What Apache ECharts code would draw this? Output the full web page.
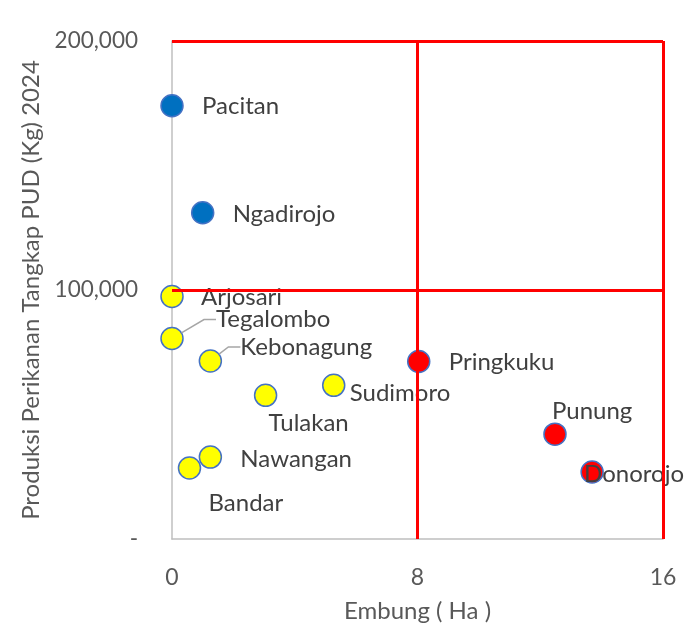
<!DOCTYPE html>
<html>
<head>
<meta charset="utf-8">
<script src="https://cdn.jsdelivr.net/npm/echarts@6/dist/echarts.min.js"></script>
<style>
  html, body { margin: 0; padding: 0; background: #ffffff; }
  #chart { width: 684px; height: 633px; }
</style>
</head>
<body>
<div id="chart"></div>
<script>
// Kecamatan di Kabupaten Pacitan
const kecamatan = ['Pacitan', 'Ngadirojo', 'Arjosari', 'Tegalombo', 'Kebonagung', 'Tulakan',
  'Sudimoro', 'Nawangan', 'Bandar', 'Pringkuku', 'Punung', 'Donorojo'];
// Luas embung (Ha)
const embung = [0, 1.0, 0, 0, 1.25, 3.05, 5.27, 1.25, 0.57, 8.04, 12.48, 13.69];
// Produksi perikanan tangkap PUD 2024 (Kg)
const produksi = [174000, 131000, 97400, 80500, 71500, 57700, 61700, 32900, 28500, 71300, 42100, 26900];
// Kelompok kuadran tiap kecamatan
const kelompok = ['tinggi', 'tinggi', 'rendah', 'rendah', 'rendah', 'rendah',
  'rendah', 'rendah', 'rendah', 'embung', 'embung', 'embung'];
// Garis batas kuadran
const batasEmbung = [8, 16];
const batasProduksi = [100000, 200000];
const xTicks = [0, 8, 16];

const FONT = 'Lato';
const warna = { tinggi: '#0070C0', rendah: '#FFFF00', embung: '#FF0000' };

// label placement: [dx, dy] from the marker centre to the text's left/middle
const labelOffset = {
  Pacitan: [30, 1], Ngadirojo: [30, 1], Arjosari: [29, 1], Tegalombo: [44, -19],
  Kebonagung: [30, -14], Tulakan: [3, 28], Sudimoro: [16, 8], Nawangan: [30, 2],
  Bandar: [19, 35], Pringkuku: [30, 1], Punung: [-3, -23], Donorojo: [-8, 2]
};
const withLeader = { Tegalombo: true, Kebonagung: true };

const points = kecamatan.map((nama, i) => ({
  name: nama,
  value: [embung[i], produksi[i]],
  itemStyle: { color: warna[kelompok[i]] },
  label: { offset: labelOffset[nama] },
  labelLine: { show: !!withLeader[nama] }
}));

const chart = echarts.init(document.getElementById('chart'), null, { renderer: 'canvas' });
chart.setOption({
  animation: false,
  backgroundColor: '#ffffff',
  grid: { left: 172, right: 21, top: 41, bottom: 94, containLabel: false },
  xAxis: {
    type: 'value', min: 0, max: 16, interval: 8,
    name: 'Embung ( Ha )', nameLocation: 'middle', nameGap: 60,
    nameTextStyle: { fontFamily: FONT, fontSize: 24, color: '#595959' },
    axisLine: { show: true, onZero: false, lineStyle: { color: '#BFBFBF', width: 1.5 } },
    axisTick: { show: false },
    splitLine: { show: false },
    axisLabel: { margin: 27, fontFamily: FONT, fontSize: 23, color: '#595959',
      customValues: xTicks }
  },
  yAxis: {
    type: 'value', min: 0, max: 200000, interval: 100000,
    name: 'Produksi Perikanan Tangkap PUD (Kg) 2024', nameLocation: 'middle', nameGap: 126,
    nameTextStyle: { fontFamily: FONT, fontSize: 24, color: '#595959' },
    axisLine: { show: true, lineStyle: { color: '#BFBFBF', width: 1.5 } },
    axisTick: { show: false },
    splitLine: { show: false },
    axisLabel: { margin: 34, fontFamily: FONT, fontSize: 22.5, color: '#595959',
      formatter: v => v === 0 ? '-' : v.toLocaleString('en-US') }
  },
  series: [{
    type: 'scatter',
    symbol: 'circle',
    symbolSize: 22,
    itemStyle: { borderColor: '#4472C4', borderWidth: 1.5, opacity: 1 },
    label: {
      show: true, position: 'inside', align: 'left', verticalAlign: 'middle',
      formatter: p => p.name,
      fontFamily: FONT, fontSize: 24, color: '#404040'
    },
    labelLine: { showAbove: true, lineStyle: { color: '#A6A6A6', width: 1.5 }, length2: 12 },
    emphasis: { disabled: true },
    markLine: {
      silent: true, symbol: 'none', animation: false,
      label: { show: false },
      lineStyle: { color: '#FF0000', width: 3, type: 'solid' },
      data: [
        ...batasProduksi.map(v => ({ yAxis: v })),
        ...batasEmbung.map(v => ({ xAxis: v }))
      ]
    },
    data: points,
    z: 3
  }]
});
</script>
</body>
</html>
